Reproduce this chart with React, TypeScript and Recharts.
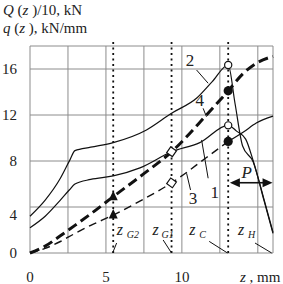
import { LineChart, Line, XAxis, YAxis, CartesianGrid, ReferenceLine, ReferenceDot } from 'recharts';

const INK = '#111';
const TEXT = '#222';
const GRID = '#8c8c8c';
const SERIF = '"Liberation Serif", "Times New Roman", Times, serif';

// q(z), kN/mm - thin solid curves 1 and 2
const z1 = [0, 1, 2, 2.6, 2.96, 4, 5.48, 7.24, 9.32, 11.18, 13.05, 13.6, 14.2, 14.7, 15.4, 16];
const q1 = [2.2, 3.2, 4.6, 5.5, 6.0, 6.4, 6.7, 7.4, 8.8, 9.6, 11.1, 10.6, 9.9, 8.0, 4.7, 1.8];
const z2 = [0, 1, 2, 2.63, 2.96, 4, 5.48, 7.67, 9.32, 11, 12, 13.05, 13.5, 14.0, 14.7, 15.4, 16];
const q2 = [3.2, 4.6, 6.5, 8.1, 8.9, 9.2, 9.6, 10.7, 12.15, 13.5, 14.9, 16.35, 13.0, 9.3, 7.9, 4.6, 1.7];

// Q(z)/10, kN - dashed curves 3 and 4
const z3 = [0, 1, 2, 2.96, 4, 5.48, 7.5, 9.32, 11.62, 13.05];
const Q3 = [0, 0.4, 1.0, 1.7, 2.4, 3.3, 4.7, 6.1, 8.3, 9.7];
const z3tail = [13.05, 14.03, 14.9, 16];
const Q3tail = [9.7, 10.5, 11.3, 11.9];
const z4 = [0, 1, 2, 2.96, 4, 5.48, 7.5, 9.32, 11.62, 13.05, 14.03, 14.9, 16];
const Q4 = [0, 0.6, 1.5, 2.4, 3.4, 4.9, 6.9, 8.8, 12.0, 14.1, 15.6, 16.5, 17.1];

// characteristic sections along z
const zNames = ['G2', 'G1', 'C', 'H'];
const zValues = [5.48, 9.32, 13.05, 16];

// marker drawn where a curve crosses a section
const marks1: Record<string, string> = { C: 'open' };
const marks2: Record<string, string> = { C: 'open' };
const marks3: Record<string, string> = { G2: 'tri', G1: 'diamond', C: 'filled' };
const marks4: Record<string, string> = { G2: 'tri', G1: 'diamond', C: 'filled' };

// axes
const xTicks = [0, 5, 10];
const xGrid = [0, 2.5, 5, 7.5, 10, 12.5, 15, 16];
const yTicks = [0, 4, 8, 12, 16];
const yGrid = [0, 4, 8, 12, 16, 18];

// curve numbers and their leaders
const tagText = ['1', '2', '3', '4'];
const tagZ = [12.17, 10.53, 10.74, 11.18];
const tagV = [5.33, 16.78, 4.78, 13.3];
const leadFrom = [[11.3, 9.83], [10.97, 15.91], [10.31, 6.93], [11.4, 12.58]];
const leadTo = [[11.73, 6.5], [11.73, 14.76], [10.57, 5.48], [11.62, 11.85]];

// P arrow
const pLabel = { z: 14.26, v: 7.07 };
const pArrow = { from: 13.16, to: 15.97, v: 6.11 };

// label placement for z_* (pixel offsets from the section line)
const zTagLayout: Record<string, { dz: number; dsub: number; lead: number[] }> = {
  G2: { dz: 3.5, dsub: 13.5, lead: [3.4, -10, -0.6, 0] },
  G1: { dz: -19, dsub: -10, lead: [-8.4, -13, 0, 0] },
  C: { dz: -39, dsub: -29, lead: [-19, -11.6, -0.7, 0] },
  H: { dz: -35, dsub: -25, lead: [-18, -10, -1.3, 0] },
};
const yTickShift: Record<number, number> = { 4: 8 };

const sectionAt = (z: number) => zNames[zValues.indexOf(z)];
const toSeries = (zs: number[], vs: number[], marks: Record<string, string>) =>
  zs.map((z, i) => ({ z, v: vs[i], mark: marks[sectionAt(z)] }));

const curve1 = toSeries(z1, q1, marks1);
const curve2 = toSeries(z2, q2, marks2);
const curve3 = toSeries(z3, Q3, marks3);
const curve3tail = toSeries(z3tail, Q3tail, {});
const curve4 = toSeries(z4, Q4, marks4);

function renderMark(props: any) {
  const { cx, cy, payload, index } = props;
  const key = `m-${index}-${cx}`;
  switch (payload?.mark) {
    case 'open':
      return <circle key={key} cx={cx} cy={cy} r={3.6} fill="#fff" stroke={INK} strokeWidth={1.2} strokeDasharray="none" />;
    case 'filled':
      return <circle key={key} cx={cx} cy={cy} r={4.6} fill={INK} stroke="none" />;
    case 'tri':
      return (
        <polygon
          key={key}
          points={`${cx},${cy - 6} ${cx - 4.5},${cy + 3.5} ${cx + 4.5},${cy + 3.5}`}
          fill={INK}
          stroke="none"
        />
      );
    case 'diamond':
      return (
        <rect
          key={key}
          x={cx - 3.5}
          y={cy - 3.5}
          width={7}
          height={7}
          transform={`rotate(35 ${cx} ${cy})`}
          fill="#fff"
          stroke={INK}
          strokeWidth={1.2}
          strokeDasharray="none"
        />
      );
    default:
      return <g key={key} />;
  }
}

const XTick = ({ x, y, payload }: any) =>
  xTicks.includes(payload.value) ? (
    <text x={x} y={y + 29} textAnchor="middle" fontSize={15} fill={TEXT} style={{ fontFamily: SERIF }}>
      {payload.value}
    </text>
  ) : (
    <g />
  );

const YTick = ({ x, y, payload }: any) =>
  yTicks.includes(payload.value) ? (
    <text
      x={x}
      y={y + 5 + (yTickShift[payload.value] ?? 0)}
      textAnchor="end"
      fontSize={15}
      fill={TEXT}
      style={{ fontFamily: SERIF }}
    >
      {payload.value}
    </text>
  ) : (
    <g />
  );

const Title = ({ viewBox }: any) => (
  <text fontSize={15} fill={TEXT} style={{ fontFamily: SERIF }}>
    <tspan x={viewBox.x + 3} y={viewBox.y - 31}>
      <tspan fontStyle="italic">Q</tspan> (<tspan fontStyle="italic">z</tspan> )/10, kN
    </tspan>
    <tspan x={viewBox.x + 3} y={viewBox.y - 13}>
      <tspan fontStyle="italic">q</tspan> (<tspan fontStyle="italic">z</tspan> ), kN/mm
    </tspan>
  </text>
);

const AxisName = ({ viewBox }: any) => (
  <text x={viewBox.x + viewBox.width - 33} y={viewBox.y + 29} fontSize={15} fill={TEXT} style={{ fontFamily: SERIF }}>
    <tspan fontStyle="italic">z</tspan> , mm
  </text>
);

const zTag = (name: string) => ({ viewBox }: any) => {
  const { dz, dsub, lead } = zTagLayout[name];
  const x = viewBox.x;
  const bottom = viewBox.y + viewBox.height;
  return (
    <g fill={TEXT} style={{ fontFamily: SERIF }}>
      <text x={x + dz} y={bottom - 18.5} fontSize={16} fontStyle="italic">z</text>
      <text x={x + dsub} y={bottom - 15.5} fontSize={10} fontStyle="italic">{name}</text>
      <line x1={x + lead[0]} y1={bottom + lead[1]} x2={x + lead[2]} y2={bottom + lead[3]} stroke={INK} strokeWidth={1} />
    </g>
  );
};

const textTag = (t: string, italic = false, size = 16) => ({ viewBox }: any) => (
  <text
    x={viewBox.x + viewBox.width / 2}
    y={viewBox.y + viewBox.height / 2 + size * 0.35}
    textAnchor="middle"
    fontSize={size}
    fontStyle={italic ? 'italic' : 'normal'}
    fill={TEXT}
    style={{ fontFamily: SERIF }}
  >
    {t}
  </text>
);

const DoubleArrow = (props: any) => {
  const x1 = props.x1 ?? props.points?.[0]?.x;
  const x2 = props.x2 ?? props.points?.[1]?.x;
  const y = props.y1 ?? props.points?.[0]?.y;
  const L = 10;
  const H = 4.5;
  return (
    <g>
      <line x1={x1 + L - 1} y1={y} x2={x2 - L + 1} y2={y} stroke={INK} strokeWidth={1.6} />
      <polygon points={`${x1},${y} ${x1 + L},${y - H} ${x1 + L},${y + H}`} fill={INK} />
      <polygon points={`${x2},${y} ${x2 - L},${y - H} ${x2 - L},${y + H}`} fill={INK} />
    </g>
  );
};

export default function App() {
  return (
    <>
      <style>{'body{margin:0}'}</style>
      <LineChart width={283} height={284} margin={{ top: 46, right: 10, bottom: 0, left: 0 }} style={{ fontFamily: SERIF }}>
        <CartesianGrid stroke={GRID} strokeWidth={1} />
        <XAxis
          type="number"
          dataKey="z"
          domain={[0, 16]}
          ticks={xGrid}
          interval={0}
          axisLine={false}
          tickLine={false}
          tickSize={0}
          tickMargin={0}
          height={31}
          tick={XTick}
          label={AxisName}
        />
        <YAxis
          type="number"
          dataKey="v"
          domain={[0, 18]}
          ticks={yGrid}
          interval={0}
          axisLine={false}
          tickLine={false}
          tickSize={0}
          tickMargin={13}
          width={30}
          tick={YTick}
          label={Title}
        />

        {/* section lines z_G2, z_G1, z_C (dotted), z_H sits on the frame */}
        {zNames.map((name, i) => (
          <ReferenceLine
            key={name}
            segment={[{ x: zValues[i], y: 0 }, { x: zValues[i], y: name === 'H' ? 18 : 18.5 }]}
            ifOverflow="visible"
            stroke={name === 'H' ? 'none' : INK}
            strokeWidth={1.8}
            strokeDasharray="2 3.5"
            label={zTag(name)}
          />
        ))}

        <Line data={curve2} dataKey="v" type="monotone" stroke={INK} strokeWidth={1.2} dot={renderMark} isAnimationActive={false} />
        <Line data={curve1} dataKey="v" type="monotone" stroke={INK} strokeWidth={1.2} dot={renderMark} isAnimationActive={false} />
        <Line data={curve3tail} dataKey="v" type="monotone" stroke={INK} strokeWidth={1.2} dot={false} isAnimationActive={false} />
        <Line data={curve3} dataKey="v" type="monotone" stroke={INK} strokeWidth={1.4} strokeDasharray="8 5" dot={renderMark} isAnimationActive={false} />
        <Line data={curve4} dataKey="v" type="monotone" stroke={INK} strokeWidth={3} strokeDasharray="10 5" dot={renderMark} isAnimationActive={false} />

        {/* curve numbers */}
        {tagText.map((t, i) => (
          <ReferenceLine
            key={`lead-${t}`}
            segment={[{ x: leadFrom[i][0], y: leadFrom[i][1] }, { x: leadTo[i][0], y: leadTo[i][1] }]}
            stroke={INK}
            strokeWidth={1}
          />
        ))}
        {tagText.map((t, i) => (
          <ReferenceDot key={`tag-${t}`} x={tagZ[i]} y={tagV[i]} r={1} fill="none" stroke="none" label={textTag(t, false, 17)} />
        ))}

        {/* contact zone P */}
        <ReferenceLine
          segment={[{ x: pArrow.from, y: pArrow.v }, { x: pArrow.to, y: pArrow.v }]}
          shape={DoubleArrow}
        />
        <ReferenceDot x={pLabel.z} y={pLabel.v} r={1} fill="none" stroke="none" label={textTag('P', true, 17)} />
      </LineChart>
    </>
  );
}
